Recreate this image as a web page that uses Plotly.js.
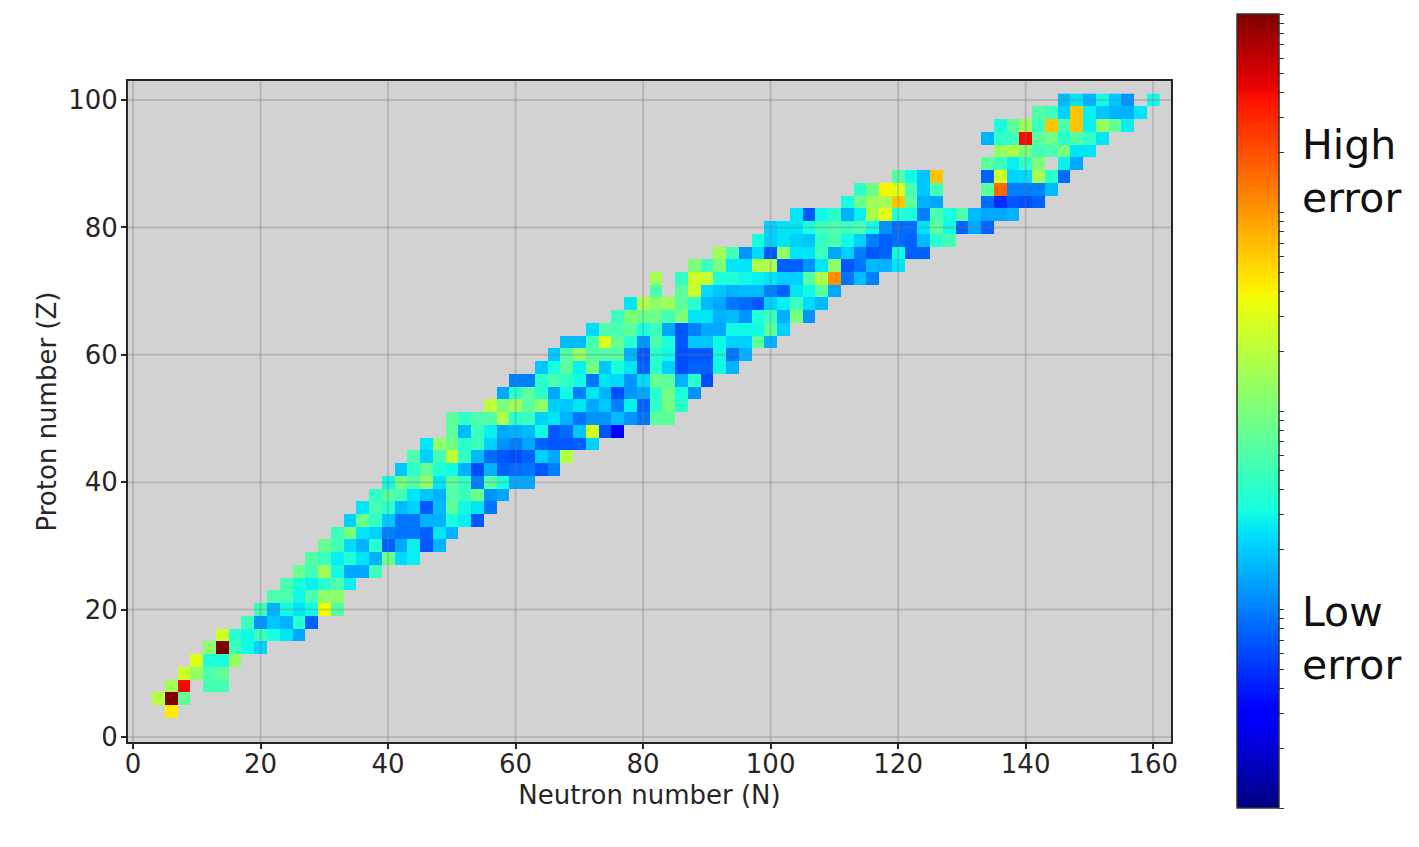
<!DOCTYPE html>
<html>
<head>
<meta charset="utf-8">
<script src="https://cdn.plot.ly/plotly-3.0.1.min.js"></script>
<style>html,body{margin:0;padding:0;background:#fff}#chart{width:1419px;height:847px}</style>
</head>
<body>
<div id="chart"></div>
<script>
// Proton number of each row, first neutron number of each row, and error level
// (0 = lowest on the colour bar, 100 = highest) for even neutron numbers.
const protonNumbers = [4,6,8,10,12,14,16,18,20,22,24,26,28,30,32,34,36,38,40,42,44,46,48,50,52,54,56,58,60,62,64,66,68,70,72,74,76,78,80,82,84,86,88,90,92,94,96,98,100];
const firstNeutron  = [6,4,6,8,10,12,14,18,20,22,24,26,28,30,32,34,36,38,40,42,44,46,50,50,56,58,60,64,66,68,72,76,78,82,82,88,92,98,100,104,112,114,120,134,136,134,136,142,146];
const errorRows = [
  [66],
  [57,100,47],
  [55,90,null,43,43],
  [60,53,44,47],
  [62,39,38,53],
  [52,100,42,37,33],
  [60,40,37,42,38,35,29],
  [42,27,32,30,40,22],
  [42,30,37,35,37,64,45],
  [44,44,37,44,52,52],
  [44,38,36,40,44,36],
  [48,43,54,37,29,29,42],
  [45,42,36,39,35,30,48,34,36],
  [47,43,34,30,40,22,29,36,21,30],
  [42,50,35,33,25,24,24,22,35,30],
  [33,48,41,32,24,24,30,30,38,36,21],
  [35,43,40,31,33,21,31,46,37,35,24],
  [41,45,43,35,32,30,45,42,48,27,29],
  [37,49,45,52,35,46,41,25,45,38,29,29],
  [32,41,47,39,37,30,20,30,22,23,24,21,25],
  [44,33,43,58,41,31,23,21,20,22,33,29,57],
  [35,52,49,40,42,33,27,25,29,22,21,21,22,33],
  [46,31,42,36,29,30,31,37,21,23,32,61,21,11],
  [46,41,44,45,56,40,42,33,35,30,24,27,27,31,27,24,46,46],
  [58,50,54,46,52,33,32,35,29,32,25,36,22,41,49,40],
  [29,40,46,40,29,37,25,35,30,20,27,29,40,49,38,27],
  [25,25,40,44,41,37,24,35,34,27,34,48,46,30,40,20],
  [32,38,46,36,49,32,38,35,22,40,33,20,22,22,37,30],
  [32,45,53,45,45,45,30,21,40,37,20,21,21,37,24,30],
  [31,31,44,62,47,40,27,44,38,21,32,32,37,33,33,46,30],
  [34,44,44,46,38,42,29,21,25,29,29,37,37,37,46,33],
  [42,50,48,48,43,50,35,35,30,31,27,39,42,30,50,27],
  [35,56,52,54,46,40,31,29,24,23,21,33,36,42,34,31],
  [44,null,46,60,34,32,30,31,31,25,22,35,37,46,29],
  [55,null,41,60,59,39,39,37,36,35,33,33,45,56,76,24,31,25],
  [50,42,50,35,35,56,56,22,22,27,35,52,21,24,31,30,35],
  [54,43,27,34,21,52,35,35,42,29,33,25,21,22,37,22,22],
  [38,33,35,33,32,41,44,37,33,25,22,23,22,31,40,43],
  [33,35,35,38,43,44,42,44,37,27,23,23,35,46,37,22,29,22],
  [35,21,37,40,30,36,56,62,39,38,25,44,38,44,31,29,29,30],
  [38,48,54,55,70,46,30,29,null,null,null,23,17,21,20,22],
  [41,48,65,62,44,32,43,null,null,null,46,80,25,25,25,31],
  [45,37,32,70,null,null,null,22,60,33,34,55,40,23],
  [46,42,36,41,50,null,36,29],
  [53,56,50,43,44,50,35,35],
  [30,41,42,90,46,49,40,45,41,35],
  [38,46,54,42,70,44,70,36,53,47,36],
  [45,42,33,70,36,32,30,30,35],
  [31,35,30,37,32,27,null,37]
];
const xTickVals = [0,20,40,60,80,100,120,140,160];
const yTickVals = [0,20,40,60,80,100];
const barDecades = [0,1,2,3];
const barMultiples = [1,2,3,4,5,6,7,8,9];
const jetStops = [0,0.11,0.125,0.34,0.35,0.375,0.64,0.65,0.66,0.89,0.91,1];
const jetColors = ['rgb(0,0,128)','rgb(0,0,255)','rgb(0,0,255)','rgb(0,219,255)','rgb(0,230,247)','rgb(21,255,226)','rgb(238,255,8)','rgb(247,246,0)','rgb(255,236,0)','rgb(255,19,0)','rgb(232,0,0)','rgb(128,0,0)'];

const neutronNumbers = [];
for (let n = 0; n <= 160; n += 2) neutronNumbers.push(n);
const matrix = protonNumbers.map((z, i) => neutronNumbers.map(n => {
  const k = (n - firstNeutron[i]) / 2;
  const v = errorRows[i][k];
  return v === undefined ? null : v;
}));

const barTicks = [100];
barDecades.forEach(d => barMultiples.forEach(m => barTicks.push(25 * (d + Math.log10(m)))));

const gridColor = 'rgba(120,120,120,0.3)';
const gridShapes = [];
xTickVals.forEach(v => gridShapes.push({type:'line', xref:'x', yref:'paper', x0:v, x1:v, y0:0, y1:1, layer:'above', line:{color:gridColor, width:2}}));
yTickVals.forEach(v => gridShapes.push({type:'line', xref:'paper', yref:'y', x0:0, x1:1, y0:v, y1:v, layer:'above', line:{color:gridColor, width:2}}));

const fontFamily = '"DejaVu Sans", sans-serif';
const textColor = '#262626';

const plotLeft = 128, plotRight = 1171, plotTop = 81, plotBottom = 742;
const px = x => (x - plotLeft) / (plotRight - plotLeft);
const py = y => (plotBottom - y) / (plotBottom - plotTop);

const trace = {
  type: 'heatmap',
  x: neutronNumbers,
  y: protonNumbers,
  z: matrix,
  zmin: 0,
  zmax: 100,
  hoverongaps: false,
  colorscale: jetStops.map((s, i) => [s, jetColors[i]]),
  colorbar: {
    xref: 'paper', yref: 'paper',
    x: px(1237), xanchor: 'left',
    y: py(808), yanchor: 'bottom',
    thicknessmode: 'pixels', thickness: 42,
    lenmode: 'pixels', len: 794,
    xpad: 0, ypad: 0,
    outlinecolor: '#333', outlinewidth: 1.5,
    borderwidth: 0,
    ticks: 'outside', ticklen: 5, tickwidth: 1, tickcolor: '#333',
    tickmode: 'array', tickvals: barTicks,
    showticklabels: false
  }
};

const axisBase = {
  showgrid: false, zeroline: false,
  showline: true, mirror: true, linecolor: '#262626', linewidth: 2,
  ticks: 'outside', ticklen: 5, tickwidth: 1.5, tickcolor: '#262626',
  tickfont: {family: fontFamily, size: 26, color: textColor},
  tickmode: 'array'
};

const layout = {
  width: 1419, height: 847,
  margin: {l: plotLeft, r: 1419 - plotRight, t: plotTop, b: 847 - plotBottom, autoexpand: false},
  paper_bgcolor: '#fff',
  plot_bgcolor: '#d2d2d2',
  showlegend: false,
  xaxis: Object.assign({}, axisBase, {
    range: [-0.8, 162.8],
    tickvals: xTickVals,
    ticklabelstandoff: -7,
    title: {text: 'Neutron number (N)', font: {family: fontFamily, size: 26, color: textColor}, standoff: 8}
  }),
  yaxis: Object.assign({}, axisBase, {
    range: [-0.8, 103],
    tickvals: yTickVals,
    ticklabelstandoff: -2,
    title: {text: 'Proton number (Z)', font: {family: fontFamily, size: 26, color: textColor}, standoff: 4}
  }),
  shapes: gridShapes,
  annotations: [
    {text: 'High<br>error', xref: 'paper', yref: 'paper', x: px(1301), y: py(171), xanchor: 'left', yanchor: 'middle', align: 'left', showarrow: false, borderpad: 0, font: {family: fontFamily, size: 41, color: '#111'}},
    {text: 'Low<br>error', xref: 'paper', yref: 'paper', x: px(1301), y: py(638), xanchor: 'left', yanchor: 'middle', align: 'left', showarrow: false, borderpad: 0, font: {family: fontFamily, size: 41, color: '#111'}}
  ]
};

Plotly.newPlot('chart', [trace], layout, {displayModeBar: false, responsive: false});
</script>
</body>
</html>
